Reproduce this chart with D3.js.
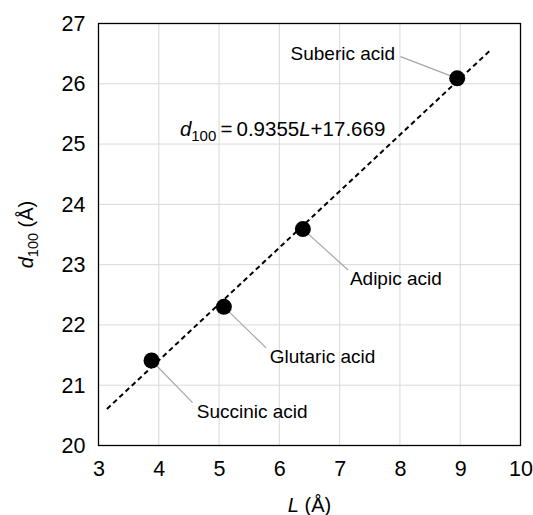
<!DOCTYPE html>
<html>
<head>
<meta charset="utf-8">
<script src="https://d3js.org/d3.v7.min.js"></script>
<style>
  body { margin: 0; background: #fff; }
  text { font-family: Arial, "Liberation Sans", sans-serif; fill: #000; }
</style>
</head>
<body>
<div id="chart"></div>
<script>
// data
var names = ["Succinic acid", "Glutaric acid", "Adipic acid", "Suberic acid"];
var lengths = [3.88, 5.08, 6.39, 8.95];
var spacings = [21.41, 22.30, 23.59, 26.09];
// label anchors (data units): text x, text baseline y, leader start x, y
var labelX = [4.63, 5.84, 7.17, 7.92];
var labelY = [20.45, 21.37, 22.66, 26.39];
var leadX = [4.56, 5.78, 7.14, 8.01];
var leadY = [20.71, 21.62, 22.91, 26.45];
var labelAnchor = ["start", "start", "start", "end"];
var slope = 0.9355, intercept = 17.669;
var fitRange = [3.14, 9.5];
var xTicks = [3, 4, 5, 6, 7, 8, 9, 10];
var yTicks = [20, 21, 22, 23, 24, 25, 26, 27];

var margin = {top: 23.5, right: 12.5, bottom: 69.5, left: 98.5},
    width = 533 - margin.left - margin.right,
    height = 515 - margin.top - margin.bottom;

var svg = d3.select("#chart")
  .append("svg")
    .attr("width", 533)
    .attr("height", 515)
  .append("g")
    .attr("transform", "translate(" + margin.left + "," + margin.top + ")");

var x = d3.scaleLinear().domain([3, 10]).range([0, width]);
var y = d3.scaleLinear().domain([20, 27]).range([height, 0]);

// grid
svg.append("g")
  .selectAll("line")
  .data(xTicks.slice(1, -1))
  .enter().append("line")
    .attr("x1", d => x(d)).attr("x2", d => x(d))
    .attr("y1", 0).attr("y2", height)
    .attr("stroke", "#d9d9d9").attr("stroke-width", 1);
svg.append("g")
  .selectAll("line")
  .data(yTicks.slice(1, -1))
  .enter().append("line")
    .attr("x1", 0).attr("x2", width)
    .attr("y1", d => y(d)).attr("y2", d => y(d))
    .attr("stroke", "#d9d9d9").attr("stroke-width", 1);

// axes (labels only, frame drawn separately)
var xAxis = svg.append("g")
  .attr("transform", "translate(0," + height + ")")
  .call(d3.axisBottom(x).tickValues(xTicks).tickFormat(d3.format("d")).tickSize(0).tickPadding(12));
var yAxis = svg.append("g")
  .call(d3.axisLeft(y).tickValues(yTicks).tickFormat(d3.format("d")).tickSize(0).tickPadding(13));
[xAxis, yAxis].forEach(function (a) {
  a.select(".domain").remove();
  a.selectAll("text").style("font-size", "21.5px").attr("fill", "#000");
});
xAxis.selectAll("text").attr("dy", "0.85em");

// frame
svg.append("rect")
  .attr("x", 0).attr("y", 0)
  .attr("width", width).attr("height", height)
  .attr("fill", "none").attr("stroke", "#000").attr("stroke-width", 1.3);

// fit line
svg.append("line")
  .attr("x1", x(fitRange[0])).attr("y1", y(slope * fitRange[0] + intercept))
  .attr("x2", x(fitRange[1])).attr("y2", y(slope * fitRange[1] + intercept))
  .attr("stroke", "#000").attr("stroke-width", 2)
  .attr("stroke-dasharray", "5,3.5");

// leader lines
svg.append("g")
  .selectAll("line")
  .data(names)
  .enter().append("line")
    .attr("x1", (d, i) => x(leadX[i])).attr("y1", (d, i) => y(leadY[i]))
    .attr("x2", (d, i) => x(lengths[i])).attr("y2", (d, i) => y(spacings[i]))
    .attr("stroke", "#a6a6a6").attr("stroke-width", 1.2);

// points
svg.append("g")
  .selectAll("circle")
  .data(names)
  .enter().append("circle")
    .attr("cx", (d, i) => x(lengths[i]))
    .attr("cy", (d, i) => y(spacings[i]))
    .attr("r", 8)
    .attr("fill", "#000");

// point labels
svg.append("g")
  .selectAll("text")
  .data(names)
  .enter().append("text")
    .attr("x", (d, i) => x(labelX[i]))
    .attr("y", (d, i) => y(labelY[i]))
    .attr("text-anchor", (d, i) => labelAnchor[i])
    .style("font-size", "19px")
    .text(d => d);

// equation
var eq = svg.append("text")
  .attr("x", x(4.35)).attr("y", y(25.13))
  .style("font-size", "20.5px");
eq.append("tspan").style("font-style", "italic").text("d");
eq.append("tspan").attr("dy", 5).style("font-size", "15px").text("100");
eq.append("tspan").attr("dy", -5).text("\u2009=\u20090.9355");
eq.append("tspan").style("font-style", "italic").text("L");
eq.append("tspan").text("+17.669");

// x title
var xt = svg.append("text")
  .attr("x", width / 2).attr("y", height + 66)
  .attr("text-anchor", "middle")
  .style("font-size", "20px");
xt.append("tspan").style("font-style", "italic").text("L");
xt.append("tspan").text(" (\u00c5)");

// y title
var yt = svg.append("text")
  .attr("transform", "translate(" + (-66) + "," + (height / 2) + ") rotate(-90)")
  .attr("text-anchor", "middle")
  .style("font-size", "20px");
yt.append("tspan").style("font-style", "italic").text("d");
yt.append("tspan").attr("dy", 5).style("font-size", "14.5px").text("100");
yt.append("tspan").attr("dy", -5).text(" (\u00c5)");
</script>
</body>
</html>
